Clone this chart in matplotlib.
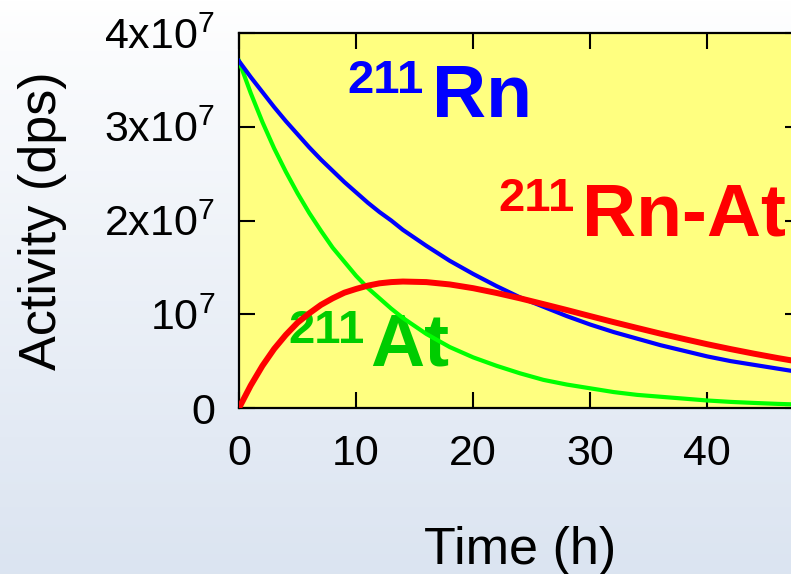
import matplotlib
matplotlib.use('Agg')
import matplotlib.pyplot as plt
import numpy as np

plt.rcParams['font.family'] = ['Liberation Sans', 'DejaVu Sans']
plt.rcParams['mathtext.default'] = 'regular'

# time (h) and activities (units of 1e7 dps)
time_h = [0, 1, 2, 3, 4, 5, 6, 7, 8, 9, 10, 11, 12, 13, 14, 16, 18, 20, 22, 24,
          26, 28, 30, 32, 34, 36, 38, 40, 42, 44, 46, 48]
rn211 = [3.70, 3.53, 3.37, 3.21, 3.06, 2.92, 2.78, 2.65, 2.53, 2.41, 2.30,
         2.19, 2.09, 2.00, 1.90, 1.73, 1.57, 1.43, 1.30, 1.18, 1.08, 0.98,
         0.89, 0.81, 0.74, 0.67, 0.61, 0.55, 0.50, 0.46, 0.42, 0.38]
at211 = [3.70, 3.36, 3.05, 2.77, 2.52, 2.29, 2.08, 1.89, 1.71, 1.56, 1.41,
         1.28, 1.17, 1.06, 0.96, 0.79, 0.65, 0.54, 0.45, 0.37, 0.30, 0.25,
         0.21, 0.17, 0.14, 0.12, 0.10, 0.08, 0.065, 0.054, 0.044, 0.036]
rnat211 = [0.0, 0.24, 0.45, 0.63, 0.78, 0.91, 1.01, 1.10, 1.17, 1.23, 1.27,
           1.305, 1.33, 1.343, 1.349, 1.343, 1.318, 1.278, 1.227, 1.17, 1.108,
           1.045, 0.98, 0.916, 0.854, 0.793, 0.736, 0.68, 0.628, 0.579, 0.533, 0.49]

xticks = [0, 10, 20, 30, 40]
yticks = [0, 1, 2, 3, 4]
ytick_labels = ['0', '$10^{7}$', '$2x10^{7}$', '$3x10^{7}$', '$4x10^{7}$']

W, H = 791, 574
fig = plt.figure(figsize=(W / 100, H / 100), dpi=100)

# background gradient
bg = fig.add_axes([0, 0, 1, 1], zorder=-1)
grad = np.linspace(0, 1, 256).reshape(-1, 1)
top = np.array([1.0, 1.0, 1.0])
bot = np.array([0.86, 0.895, 0.945])
img = top + (bot - top) * grad[..., None] ** 0.9
img = img.reshape(256, 1, 3)
bg.imshow(img, aspect='auto', extent=[0, 1, 0, 1])
bg.axis('off')

ax = fig.add_axes([239 / W, (H - 408) / H, 562 / W, 375 / H])
ax.set_facecolor('#ffff80')

ax.plot(time_h, at211, color='#00ff00', lw=3.0, zorder=3)
ax.plot(time_h, rn211, color='#0000ff', lw=3.0, zorder=4)
ax.plot(time_h, rnat211, color='#ff0000', lw=4.3, zorder=5, solid_capstyle='round')

big = 54
sup = 34
ax.text(9.29, 3.36, '211', color='#0000ff', fontsize=sup, fontweight='bold', va='baseline', zorder=2)
ax.text(16.5, 3.10, 'Rn', color='#0000ff', fontsize=big, fontweight='bold', va='baseline', zorder=2)
ax.text(22.17, 2.10, '211', color='#ff0000', fontsize=sup, fontweight='bold', va='baseline', zorder=2)
ax.text(29.33, 1.835, 'Rn-At', color='#ff0000', fontsize=big, fontweight='bold', va='baseline', zorder=2)
ax.text(4.18, 0.693, '211', color='#00cc00', fontsize=sup, fontweight='bold', va='baseline', zorder=2)
ax.text(11.17, 0.448, 'At', color='#00cc00', fontsize=big, fontweight='bold', va='baseline', zorder=2)

ax.set_xlim(0, 48)
ax.set_ylim(0, 4)
ax.set_xticks(xticks)
ax.set_yticks(yticks)
ax.set_yticklabels(ytick_labels)
ax.tick_params(direction='in', length=11.5, width=1.5, top=True, right=True,
               labelsize=31)
ax.tick_params(axis='x', pad=19)
ax.tick_params(axis='y', pad=17)
for s in ax.spines.values():
    s.set_linewidth(1.6)

ax.set_xlabel('Time (h)', fontsize=37.5, labelpad=37)
ax.set_ylabel('Activity (dps)', fontsize=37.5, labelpad=27)

fig.savefig('out.png', dpi=100)
